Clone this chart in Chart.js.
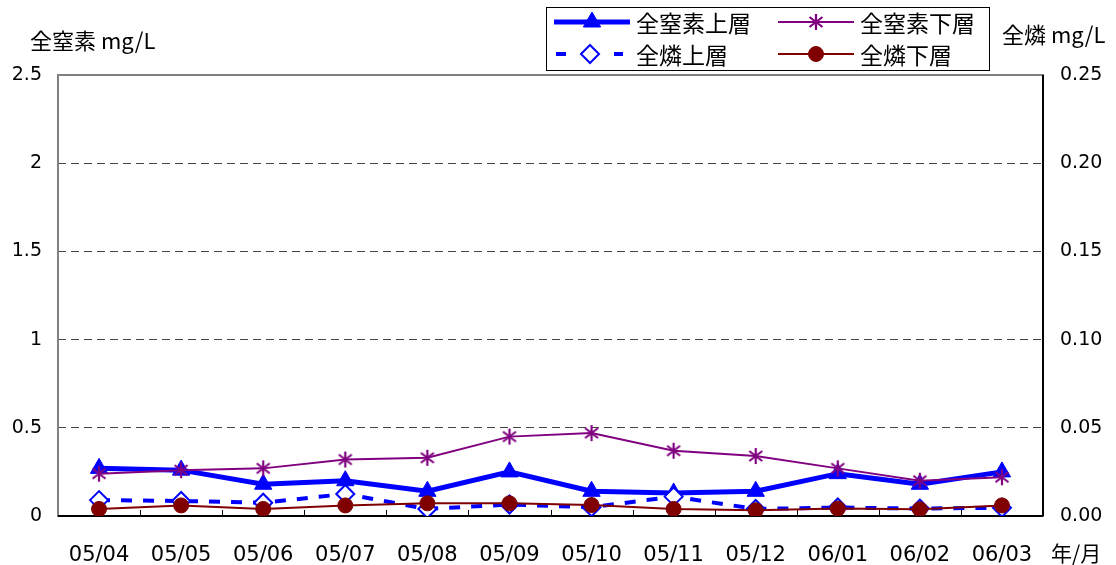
<!DOCTYPE html>
<html>
<head>
<meta charset="utf-8">
<script src="https://cdn.jsdelivr.net/npm/chart.js@4.4.1/dist/chart.umd.min.js"></script>
<style>
  html, body { margin: 0; padding: 0; background: #fff; }
  #wrap { width: 1116px; height: 565px; position: relative; }
</style>
</head>
<body>
<div id="wrap"><canvas id="chart" width="1116" height="565"></canvas></div>
<script>
// 年/月
const months = ['05/04', '05/05', '05/06', '05/07', '05/08', '05/09', '05/10', '05/11', '05/12', '06/01', '06/02', '06/03'];

// 全窒素 (mg/L, 左軸)
const tnUpper = [0.27, 0.26, 0.18, 0.20, 0.14, 0.25, 0.14, 0.13, 0.14, 0.24, 0.18, 0.25];
const tnLower = [0.24, 0.26, 0.27, 0.32, 0.33, 0.45, 0.47, 0.37, 0.34, 0.27, 0.20, 0.22];

// 全燐 (mg/L, 右軸)
const tpUpper = [0.009, 0.0085, 0.0075, 0.0125, 0.004, 0.0065, 0.005, 0.011, 0.004, 0.0048, 0.0042, 0.0047];
const tpLower = [0.004, 0.006, 0.004, 0.006, 0.0072, 0.0072, 0.0062, 0.004, 0.0032, 0.0042, 0.0038, 0.006];

const seriesNames = ['全窒素上層', '全窒素下層', '全燐上層', '全燐下層'];

const BLUE = '#0000ff';
const PURPLE = '#800080';
const MAROON = '#800000';
const NUM_FONT = 'DejaVu Sans';
const JP_FONT = "'Noto Sans CJK JP'";

// Excel風のアスタリスク(6本)マーカー
function makeStar() {
  const c = document.createElement('canvas');
  c.width = 18; c.height = 18;
  const g = c.getContext('2d');
  g.strokeStyle = PURPLE;
  g.lineWidth = 2.2;
  g.beginPath();
  g.moveTo(9, 1); g.lineTo(9, 17);
  g.moveTo(2.5, 4); g.lineTo(15.5, 14);
  g.moveTo(15.5, 4); g.lineTo(2.5, 14);
  g.stroke();
  return c;
}
const starImg = makeStar();

// 枠・目盛り・軸タイトル・凡例
const decor = {
  id: 'decor',
  beforeDatasetsDraw(chart) {
    const { ctx, chartArea: a } = chart;
    ctx.save();
    ctx.strokeStyle = '#808080';
    ctx.lineWidth = 2;
    ctx.strokeRect(a.left, a.top, a.right - a.left, a.bottom - a.top);
    ctx.strokeStyle = '#000';
    ctx.lineWidth = 2;
    ctx.beginPath();
    ctx.moveTo(a.left, a.bottom); ctx.lineTo(a.right, a.bottom);
    ctx.moveTo(a.right, a.top); ctx.lineTo(a.right, a.bottom);
    ctx.stroke();
    // x軸の内向き目盛り
    const step = (a.right - a.left) / months.length;
    ctx.lineWidth = 1;
    ctx.beginPath();
    for (let i = 1; i < months.length; i++) {
      const px = Math.round(a.left + step * i) + 0.5;
      ctx.moveTo(px, a.bottom);
      ctx.lineTo(px, a.bottom - 6);
    }
    ctx.stroke();
    ctx.restore();
  },
  afterDraw(chart) {
    const { ctx } = chart;
    ctx.save();
    ctx.fillStyle = '#000';
    ctx.textBaseline = 'middle';
    ctx.textAlign = 'left';
    ctx.font = '22px ' + JP_FONT;
    ctx.fillText('全窒素 mg/L', 30, 41);
    ctx.fillText('全燐 mg/L', 1002, 35);
    ctx.font = '21px ' + JP_FONT;
    ctx.fillText('年/月', 1051, 553);

    // 凡例
    ctx.fillStyle = '#fff';
    ctx.fillRect(546, 7, 443, 63);
    ctx.strokeStyle = '#000';
    ctx.lineWidth = 1;
    ctx.strokeRect(546.5, 7.5, 443, 63);
    const items = [
      { ds: 0, x: 554, y: 22 },
      { ds: 1, x: 778, y: 22 },
      { ds: 2, x: 554, y: 54 },
      { ds: 3, x: 778, y: 54 }
    ];
    items.forEach(it => {
      const d = chart.data.datasets[it.ds];
      ctx.save();
      ctx.strokeStyle = d.borderColor;
      ctx.lineWidth = d.borderWidth;
      ctx.beginPath();
      if (d.borderDash) {
        ctx.moveTo(it.x + 2, it.y); ctx.lineTo(it.x + 12, it.y);
        ctx.moveTo(it.x + 60, it.y); ctx.lineTo(it.x + 69, it.y);
      } else {
        ctx.moveTo(it.x, it.y); ctx.lineTo(it.x + 76, it.y);
      }
      ctx.stroke();
      ctx.fillStyle = d.pointBackgroundColor;
      ctx.strokeStyle = d.pointBorderColor;
      ctx.lineWidth = d.pointBorderWidth;
      Chart.helpers.drawPoint(ctx, {
        pointStyle: d.pointStyle,
        radius: d.pointRadius,
        rotation: 0,
        borderWidth: d.pointBorderWidth
      }, d.borderDash ? it.x + 36 : it.x + 38, it.y);
      ctx.restore();
      ctx.fillStyle = '#000';
      ctx.font = '23px ' + JP_FONT;
      ctx.textBaseline = 'middle';
      ctx.fillText(seriesNames[it.ds], it.x + 82, it.y + 1);
    });
    ctx.restore();
  }
};

new Chart(document.getElementById('chart'), {
  type: 'line',
  data: {
    labels: months,
    datasets: [
      {
        label: seriesNames[0], data: tnUpper, yAxisID: 'y', order: 4,
        borderColor: BLUE, borderWidth: 5,
        pointStyle: 'triangle', pointRadius: 10,
        pointBackgroundColor: BLUE, pointBorderColor: BLUE, pointBorderWidth: 1
      },
      {
        label: seriesNames[1], data: tnLower, yAxisID: 'y', order: 3,
        borderColor: PURPLE, borderWidth: 2,
        pointStyle: starImg, pointRadius: 9,
        pointBackgroundColor: PURPLE, pointBorderColor: PURPLE, pointBorderWidth: 1
      },
      {
        label: seriesNames[2], data: tpUpper, yAxisID: 'y2', order: 2,
        borderColor: BLUE, borderWidth: 4, borderDash: [11, 11],
        pointStyle: 'rectRot', pointRadius: 9,
        pointBackgroundColor: '#fff', pointBorderColor: BLUE, pointBorderWidth: 2
      },
      {
        label: seriesNames[3], data: tpLower, yAxisID: 'y2', order: 1,
        borderColor: MAROON, borderWidth: 2,
        pointStyle: 'circle', pointRadius: 7.5,
        pointBackgroundColor: MAROON, pointBorderColor: MAROON, pointBorderWidth: 1
      }
    ]
  },
  options: {
    responsive: false,
    animation: false,
    events: [],
    layout: { padding: { top: 75, left: 0, right: 0, bottom: 0 } },
    elements: { line: { tension: 0 } },
    plugins: { legend: { display: false }, tooltip: { enabled: false } },
    scales: {
      x: {
        offset: true,
        grid: { display: false, offset: true },
        border: { display: false },
        ticks: { color: '#000', font: { family: NUM_FONT, size: 21 }, padding: 19, maxRotation: 0 },
        afterFit(s) { s.height = 49; }
      },
      y: {
        position: 'left', min: 0, max: 2.5,
        ticks: { stepSize: 0.5, color: '#000', font: { family: NUM_FONT, size: 19 }, padding: 16,
          callback: (v) => String(Number(v)) },
        grid: { color: '#444', drawTicks: false, lineWidth: (c) => (c.tick.value === 0 || c.tick.value === 2.5 ? 0 : 1) },
        border: { display: false, dash: [8, 5] },
        afterFit(s) { s.width = 58; }
      },
      y2: {
        position: 'right', min: 0, max: 0.25,
        ticks: { stepSize: 0.05, color: '#000', font: { family: NUM_FONT, size: 19 }, padding: 17,
          callback: (v) => Number(v).toFixed(2) },
        grid: { drawOnChartArea: false, drawTicks: false },
        border: { display: false },
        afterFit(s) { s.width = 73; }
      }
    }
  },
  plugins: [decor]
});
</script>
</body>
</html>
